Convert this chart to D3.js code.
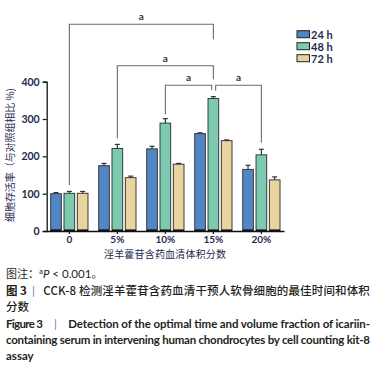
<!DOCTYPE html>
<html><head><meta charset="utf-8">
<script src="https://cdn.jsdelivr.net/npm/d3@7"></script>
<style>
body{margin:0;background:#fff;}
svg{display:block;}
</style></head>
<body>
<svg id="c" width="380" height="368"></svg>
<script>
const groups = ["0","5%","10%","15%","20%"];
const series = ["24 h","48 h","72 h"];
const colors = ["#5085c6","#7ecab1","#e8d49f"];
const v24 = [100,175,220,261,165];
const v48 = [101,221,289,355,204];
const v72 = [101,143,179,242,137];
const e24 = [3,6,7,2,11];
const e48 = [5,11,12,5,15];
const e72 = [5,4,2,2,8];
const yTicks = [0,100,200,300,400];
const brackets = [
  {from:"0", to:"15%", level:24.3, leftEnd:185, rightEnd:39.3, label:"a"},
  {from:"5%", to:"15%", level:65.7, leftEnd:138.3, rightEnd:79.3, label:"a"},
  {from:"10%", to:"15%", level:85.3, leftEnd:114.3, rightEnd:90, label:"a", dx2:-1.7},
  {from:"15%", to:"20%", level:85.3, leftEnd:90.7, rightEnd:142.7, label:"a", dx1:2.3}
];
const values = [v24, v48, v72];
const errs = [e24, e48, e72];

const svg = d3.select("#c");
const navy = "#1f2a50";
const x = d3.scaleBand().domain(groups).range([46.7, 284]).paddingInner(0.223).paddingOuter(0.083);
const xs = d3.scaleBand().domain(series).range([0, x.bandwidth()]).paddingInner(0.2);
const y = d3.scaleLinear().domain([0,400]).range([231, 81.7]);

series.forEach((s, si) => {
  const g = svg.append("g");
  groups.forEach((gr, gi) => {
    const bx = x(gr) + xs(s);
    const bw = xs.bandwidth();
    const val = values[si][gi];
    g.append("rect").attr("x", bx).attr("y", y(val)).attr("width", bw).attr("height", y(0) - y(val))
      .attr("fill", colors[si]).attr("stroke", "#3a3a3a").attr("stroke-width", 1);
    const ey = y(val + errs[si][gi]);
    const cx = bx + bw/2;
    g.append("line").attr("x1", cx).attr("x2", cx).attr("y1", y(val)).attr("y2", ey).attr("stroke","#333").attr("stroke-width",1.2);
    g.append("line").attr("x1", cx-2.5).attr("x2", cx+2.5).attr("y1", ey).attr("y2", ey).attr("stroke","#333").attr("stroke-width",1.2);
    g.append("line").attr("x1", bx).attr("x2", bx+bw).attr("y1", y(0)-0.8).attr("y2", y(0)-0.8).attr("stroke","#111").attr("stroke-width",1.6);
  });
});

const yAxis = svg.append("g").attr("transform","translate(46.7,0)")
  .call(d3.axisLeft(y).tickValues(yTicks).tickSize(4).tickPadding(3));
yAxis.select(".domain").attr("stroke","#111").attr("stroke-width",1.3);
yAxis.selectAll(".tick line").attr("stroke","#111").attr("stroke-width",1.2);
yAxis.selectAll("text").attr("font-family","Lato, 'Liberation Sans', sans-serif").attr("font-weight","bold")
  .attr("font-size","10.5px").attr("fill",navy);

const xAxis = svg.append("g").attr("transform","translate(0,231)")
  .call(d3.axisBottom(x).tickSize(3).tickPadding(2).tickSizeOuter(0));
xAxis.select(".domain").attr("stroke","#111").attr("stroke-width",1.3);
xAxis.selectAll(".tick line").attr("stroke","#111").attr("stroke-width",1.2);
xAxis.selectAll("text").attr("font-family","Lato, 'Liberation Sans', sans-serif").attr("font-weight","bold")
  .attr("font-size","10px").attr("fill",navy);

svg.append("text").attr("x",165).attr("y",258).attr("text-anchor","middle")
  .attr("font-family","'Noto Sans CJK SC', sans-serif").attr("font-size","10px").attr("fill",navy)
  .attr("textLength",122).attr("lengthAdjust","spacing")
  .text("淫羊藿苷含药血清体积分数");
svg.append("text").attr("transform","translate(14,155) rotate(-90)").attr("text-anchor","middle")
  .attr("font-family","'Noto Sans CJK SC', sans-serif").attr("font-size","10px").attr("fill",navy)
  .attr("textLength",134).attr("lengthAdjust","spacing")
  .text("细胞存活率（与对照组相比 %)");

const center = (gr, s) => x(gr) + xs(s) + xs.bandwidth()/2;
brackets.forEach(b => {
  const x1 = center(b.from, "48 h") + (b.dx1||0);
  const x2 = center(b.to, "48 h") + (b.dx2||0);
  svg.append("path").attr("d", `M${x1},${b.leftEnd}V${b.level}H${x2}V${b.rightEnd}`)
    .attr("fill","none").attr("stroke","#6b6b6b").attr("stroke-width",1.1);
  svg.append("text").attr("x",(x1+x2)/2).attr("y",b.level-4).attr("text-anchor","middle")
    .attr("font-family","Lato, 'Liberation Sans', sans-serif").attr("font-weight","bold")
    .attr("font-size","10px").attr("fill","#333").text(b.label);
});

const leg = svg.append("g");
series.forEach((s, i) => {
  const ly = 34.7 + i*12;
  leg.append("rect").attr("x",297).attr("y",ly-4).attr("width",12.5).attr("height",7)
    .attr("fill",colors[i]).attr("stroke","#222").attr("stroke-width",1);
  leg.append("text").attr("x",311).attr("y",ly+4)
    .attr("font-family","Lato, 'Liberation Sans', sans-serif").attr("font-weight","bold")
    .attr("font-size","11px").attr("fill",navy).text(s);
});

const cap = svg.append("g").attr("fill","#231f20");
const cjk = "'Noto Sans CJK SC', sans-serif";
const lat = "Lato, 'Liberation Sans', sans-serif";
const t1 = cap.append("text").attr("x",6).attr("y",277.5).attr("font-family",cjk).attr("font-size","11px");
t1.append("tspan").text("图注：");
t1.append("tspan").attr("font-size","7px").attr("dy",-4).text("a");
t1.append("tspan").attr("font-family",lat).attr("font-style","italic").attr("font-size","11.5px").attr("dy",4).text("P");
t1.append("tspan").attr("font-family",lat).attr("font-size","11.5px").text(" < 0.001");
t1.append("tspan").text("。");

cap.append("text").attr("x",6).attr("y",295).attr("font-family",cjk).attr("font-weight","bold").attr("font-size","11.5px").text("图 3");
cap.append("text").attr("x",32).attr("y",295).attr("font-family",lat).attr("font-size","11.5px").attr("fill","#5b86c0").text("|");
cap.append("text").attr("x",43.3).attr("y",295).attr("font-family",cjk).attr("font-weight","500").attr("font-size","11.5px")
  .attr("textLength",326.5).attr("lengthAdjust","spacing").text("CCK-8 检测淫羊藿苷含药血清干预人软骨细胞的最佳时间和体积");
cap.append("text").attr("x",6).attr("y",311).attr("font-family",cjk).attr("font-weight","500").attr("font-size","11.5px").text("分数");

cap.append("text").attr("x",6).attr("y",327.5).attr("font-family",lat).attr("font-weight","bold").attr("font-size","11.5px")
  .attr("textLength",37).attr("lengthAdjust","spacing").text("Figure 3");
cap.append("text").attr("x",54).attr("y",327.5).attr("font-family",lat).attr("font-size","11.5px").attr("fill","#5b86c0").text("|");
cap.append("text").attr("x",68.3).attr("y",327.5).attr("font-family",lat).attr("font-weight","bold").attr("font-size","11.5px")
  .attr("textLength",301.7).attr("lengthAdjust","spacing").text("Detection of the optimal time and volume fraction of icariin-");
cap.append("text").attr("x",6).attr("y",343.5).attr("font-family",lat).attr("font-weight","bold").attr("font-size","11.5px")
  .attr("textLength",364).attr("lengthAdjust","spacing").text("containing serum in intervening human chondrocytes by cell counting kit-8");
cap.append("text").attr("x",6).attr("y",359.5).attr("font-family",lat).attr("font-weight","bold").attr("font-size","11.5px").text("assay");
</script>
</body></html>
